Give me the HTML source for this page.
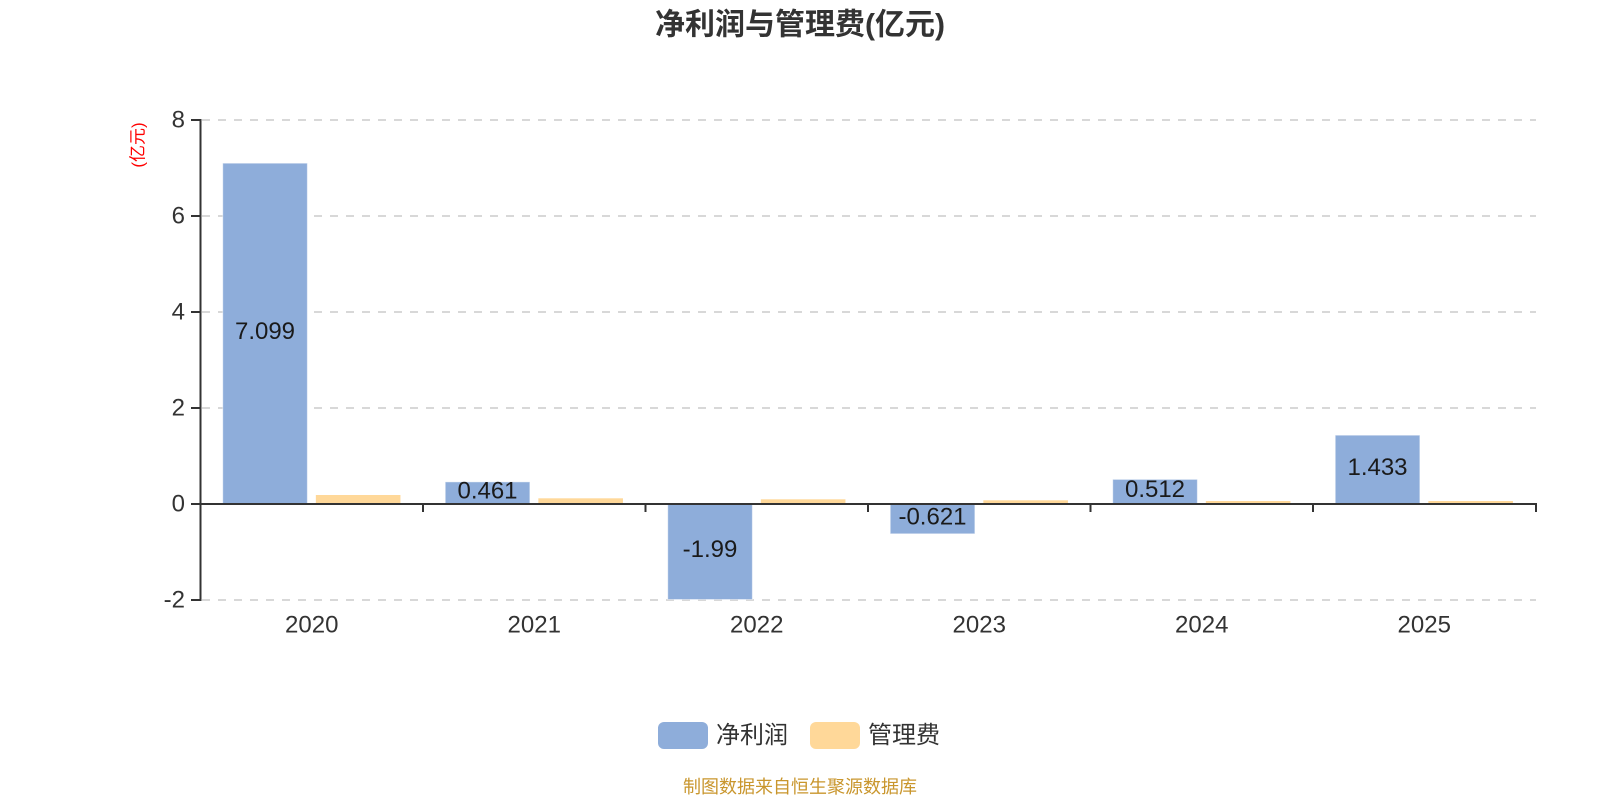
<!DOCTYPE html>
<html>
<head>
<meta charset="utf-8">
<style>
  html,body{margin:0;padding:0;background:#fff;}
  svg{display:block;}
  text{font-family:"Liberation Sans","Noto Sans CJK SC",sans-serif;}
</style>
</head>
<body>
<svg width="1600" height="800" viewBox="0 0 1600 800" xmlns="http://www.w3.org/2000/svg">
  <rect width="1600" height="800" fill="#fff"/>
  <!-- title -->
  <text x="800" y="25" text-anchor="middle" dominant-baseline="central" font-size="30" font-weight="bold" fill="#333">净利润与管理费(亿元)</text>

  <!-- y unit label -->
  <text x="138" y="145" text-anchor="middle" dominant-baseline="central" font-size="17" fill="#ff0000" transform="rotate(-90 138 145)">(亿元)</text>

  <!-- gridlines -->
  <g stroke="#cccccc" stroke-width="1.5" stroke-dasharray="8 8">
    <line x1="202" y1="120" x2="1536" y2="120"/>
    <line x1="202" y1="216" x2="1536" y2="216"/>
    <line x1="202" y1="312" x2="1536" y2="312"/>
    <line x1="202" y1="408" x2="1536" y2="408"/>
    <line x1="202" y1="600" x2="1536" y2="600"/>
  </g>

  <!-- y labels -->
  <g font-size="24" fill="#333" text-anchor="end" dominant-baseline="central">
    <text x="185" y="120">8</text>
    <text x="185" y="216">6</text>
    <text x="185" y="312">4</text>
    <text x="185" y="408">2</text>
    <text x="185" y="504">0</text>
    <text x="185" y="600">-2</text>
  </g>

  <!-- bars -->
  <g fill="#8EADDA" stroke="rgba(255,255,255,0.45)" stroke-width="1">
    <rect x="222.75" y="163.2" width="84.6" height="340.8"/>
    <rect x="445.25" y="481.9" width="84.6" height="22.1"/>
    <rect x="667.75" y="504" width="84.6" height="95.5"/>
    <rect x="890.25" y="504" width="84.6" height="29.8"/>
    <rect x="1112.75" y="479.4" width="84.6" height="24.6"/>
    <rect x="1335.25" y="435.2" width="84.6" height="68.8"/>
  </g>
  <g fill="#FFD899">
    <rect x="315.85" y="495" width="84.6" height="9"/>
    <rect x="538.35" y="498.3" width="84.6" height="5.7"/>
    <rect x="760.85" y="499.3" width="84.6" height="4.7"/>
    <rect x="983.35" y="500.3" width="84.6" height="3.7"/>
    <rect x="1205.85" y="501" width="84.6" height="3"/>
    <rect x="1428.35" y="501" width="84.6" height="3"/>
  </g>

  <!-- axes -->
  <g stroke="#333" stroke-width="2" fill="none">
    <line x1="200.5" y1="119" x2="200.5" y2="601"/>
    <line x1="191" y1="120" x2="200.5" y2="120"/>
    <line x1="191" y1="216" x2="200.5" y2="216"/>
    <line x1="191" y1="312" x2="200.5" y2="312"/>
    <line x1="191" y1="408" x2="200.5" y2="408"/>
    <line x1="191" y1="504" x2="200.5" y2="504"/>
    <line x1="191" y1="600" x2="200.5" y2="600"/>
    <line x1="200.5" y1="504" x2="1537" y2="504"/>
    <line x1="423" y1="504" x2="423" y2="512"/>
    <line x1="645.5" y1="504" x2="645.5" y2="512"/>
    <line x1="868" y1="504" x2="868" y2="512"/>
    <line x1="1090.5" y1="504" x2="1090.5" y2="512"/>
    <line x1="1313" y1="504" x2="1313" y2="512"/>
    <line x1="1536" y1="504" x2="1536" y2="512"/>
  </g>

  <!-- bar labels -->
  <g font-size="24" fill="#1a1a1a" text-anchor="middle" dominant-baseline="central">
    <text x="265" y="331.6">7.099</text>
    <text x="487.5" y="491">0.461</text>
    <text x="710" y="549.5">-1.99</text>
    <text x="932.5" y="517">-0.621</text>
    <text x="1155" y="489.7">0.512</text>
    <text x="1377.5" y="467.6">1.433</text>
  </g>

  <!-- x labels -->
  <g font-size="24" fill="#333" text-anchor="middle" dominant-baseline="central">
    <text x="311.75" y="625">2020</text>
    <text x="534.25" y="625">2021</text>
    <text x="756.75" y="625">2022</text>
    <text x="979.25" y="625">2023</text>
    <text x="1201.75" y="625">2024</text>
    <text x="1424.25" y="625">2025</text>
  </g>

  <!-- legend -->
  <rect x="658" y="722" width="50" height="27" rx="6" ry="6" fill="#8EADDA"/>
  <text x="716" y="735.5" font-size="24" fill="#333" dominant-baseline="central">净利润</text>
  <rect x="810" y="722" width="50" height="27" rx="6" ry="6" fill="#FFD899"/>
  <text x="868" y="735.5" font-size="24" fill="#333" dominant-baseline="central">管理费</text>

  <!-- footer -->
  <text x="800" y="787" text-anchor="middle" dominant-baseline="central" font-size="18" fill="#C9962D">制图数据来自恒生聚源数据库</text>
</svg>
</body>
</html>
